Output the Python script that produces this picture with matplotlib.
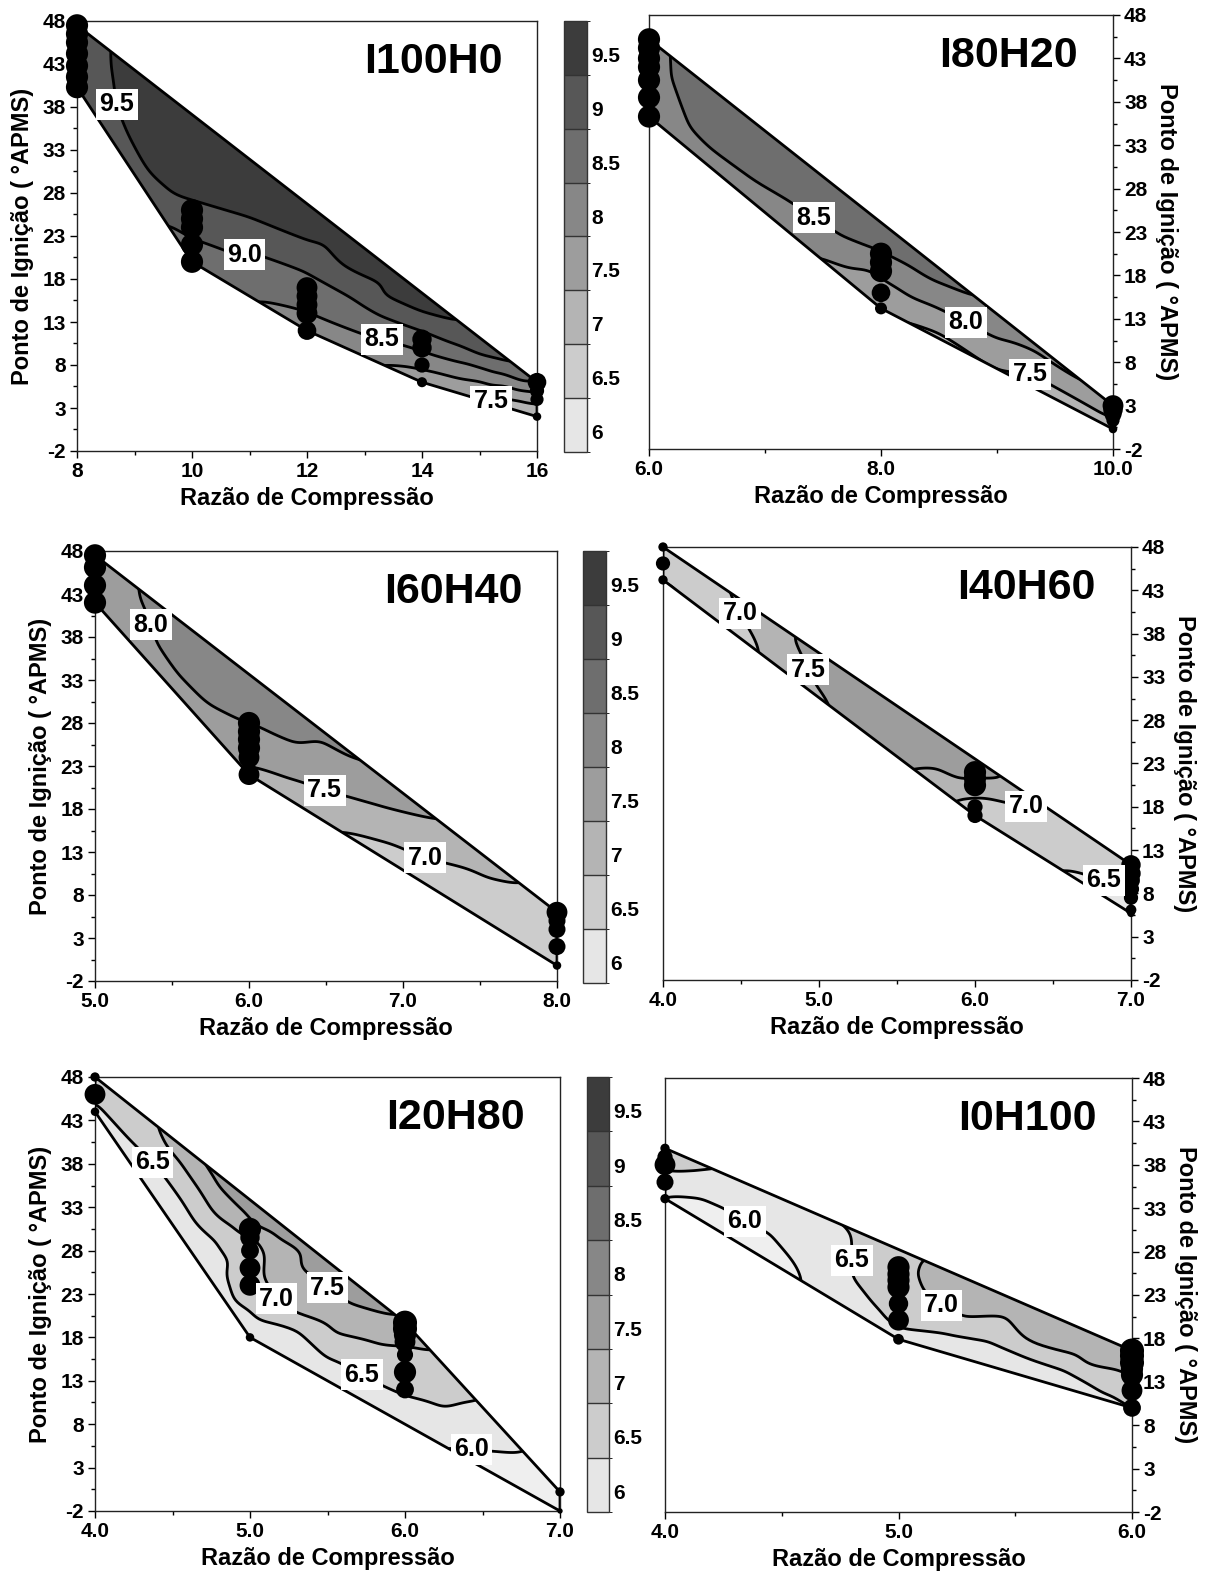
import numpy as np
import matplotlib
matplotlib.use('Agg')
import matplotlib.pyplot as plt
import matplotlib.tri as mtri
from matplotlib.patches import Polygon
from matplotlib.colors import ListedColormap, BoundaryNorm
from matplotlib.cm import ScalarMappable
from matplotlib.ticker import FixedLocator, FixedFormatter

plt.rcParams['font.family'] = ['Liberation Sans', 'DejaVu Sans']
plt.rcParams['font.weight'] = 'bold'
plt.rcParams['axes.unicode_minus'] = False

W, H = 1205, 1573

# ---------------- common scale ----------------
LEVELS = [6.0, 6.5, 7.0, 7.5, 8.0, 8.5, 9.0, 9.5, 10.0]
GRAYS = ['#e6e6e6', '#cccccc', '#b4b4b4', '#9d9d9d', '#878787', '#6e6e6e', '#575757', '#3c3c3c']
UNDER = '#efefef'
CB_LABELS = ['6', '6.5', '7', '7.5', '8', '8.5', '9', '9.5']
Y_TICKS = [-2, 3, 8, 13, 18, 23, 28, 33, 38, 43, 48]
X_LABEL = 'Razão de Compressão'
Y_LABEL = 'Ponto de Ignição ( °APMS)'

# ---------------- I100H0 ----------------
i100_xticks = [8, 10, 12, 14, 16]
i100_xticklabels = ['8', '10', '12', '14', '16']
i100_dot_x = [8, 8, 8, 8, 8, 8, 8, 10, 10, 10, 10, 10, 12, 12, 12, 12, 12, 14, 14, 14, 14, 16, 16, 16, 16]
i100_dot_y = [47.5, 46.5, 45.5, 44.2, 42.8, 41.5, 40.3, 26, 25, 24, 22, 20, 17, 16, 15, 14, 12, 11, 10, 8, 6, 6, 5, 4, 2]
i100_dot_s = [170, 170, 170, 170, 170, 170, 170, 170, 170, 170, 170, 170, 150, 150, 150, 150, 120, 130, 130, 80, 35, 120, 70, 60, 25]
i100_iso = {
    9.5: [(8.55, 46), (8.58, 42), (8.65, 38.5), (8.86, 34.8), (9.2, 30.1), (9.6, 27.8), (10.2, 26.6),
          (11.0, 25.0), (12.0, 22.3), (12.65, 19.2), (13.3, 16.0), (14.0, 13.9), (14.9, 12.3)],
    9.0: [(9.42, 25.6), (10, 22.8), (10.9, 20.5), (12, 18.8), (12.65, 16.4), (13.3, 13.7), (14, 12),
          (14.6, 10.3), (15.3, 8.6), (15.9, 7.0)],
    8.5: [(10.85, 16.3), (12, 14.1), (13.3, 11), (14, 9.6), (15, 7.8), (16.05, 6.3)],
    8.0: [(12.95, 8.9), (14, 7.6), (15, 6.2), (16.05, 4.9)],
    7.5: [(14.65, 4.5), (15.2, 4.0), (16.05, 3.3)],
    7.0: [(15.8, 2.2), (16.05, 2.6)],
}
i100_extra = [(8, 47.5, 9.3), (8, 44, 9.3), (8, 40.3, 9.2), (9.5, 36, 9.75), (10.5, 31, 9.75),
              (11.5, 28, 9.75), (12.5, 23.5, 9.7), (13.5, 18, 9.65), (10, 38.5, 9.8), (12, 28, 9.8),
              (14, 17.5, 9.8), (10, 24.5, 9.25), (11, 22.8, 9.25), (12, 20.5, 9.25), (13, 16.5, 9.25),
              (14, 13, 9.25), (15, 10, 9.2), (10, 20, 8.75), (11, 19.5, 8.75), (12, 16.5, 8.75),
              (13, 13, 8.75), (14, 10.8, 8.75), (15, 8.2, 8.75), (16, 6, 8.45), (12, 12.5, 8.25),
              (13, 10, 8.25), (14, 8.5, 8.25), (15, 7, 8.25), (16, 5.5, 8.25), (14, 6.3, 7.75),
              (15, 5, 7.75), (16, 4, 7.75), (16, 2.9, 7.25), (15.5, 3.5, 7.25), (16, 2, 6.9)]
i100_labels = [(8.67, 38.3), (10.92, 20.5), (13.3, 11), (15.2, 4.0)]

# ---------------- I80H20 ----------------
i80_xticks = [6, 8, 10]
i80_xticklabels = ['6.0', '8.0', '10.0']
i80_dot_x = [6, 6, 6, 6, 6, 6, 6, 8, 8, 8, 8, 8, 10, 10, 10, 10, 10]
i80_dot_y = [45.2, 44.2, 43, 42, 40.5, 38.5, 36.3, 20.5, 19.5, 18.5, 16, 14.2, 3, 2.5, 2, 1.3, 0.3]
i80_dot_s = [170, 170, 170, 170, 170, 170, 170, 170, 170, 170, 120, 50, 150, 130, 100, 60, 25]
i80_iso = {
    8.5: [(6.17, 46), (6.19, 40.9), (6.36, 34.7), (6.54, 32), (6.84, 29), (7.24, 25.9), (7.64, 22.4),
          (7.97, 20.6), (8.3, 18.5), (8.95, 14.5)],
    8.0: [(7.27, 21.4), (7.9, 18.8), (8.1, 16.9), (8.73, 12.6), (9.3, 9.5), (9.95, 3.6)],
    7.5: [(7.95, 14.3), (8.5, 11.6), (9.29, 6.9), (10.05, 2.3)],
}
i80_extra = [(6, 45.2, 8.4), (6, 40, 8.4), (6, 36.3, 8.3), (6.1, 38, 8.4), (6.6, 38, 8.7), (7, 34, 8.7),
             (7.5, 29, 8.7), (8, 24, 8.7), (8.5, 18.5, 8.7), (7, 36, 8.8), (8, 25.5, 8.8), (7, 26.3, 8.25),
             (7.6, 21, 8.25), (8.4, 16, 8.25), (9, 12.5, 8.25), (9.5, 9, 8.25), (9.5, 9.5, 8.3),
             (8.5, 13, 7.75), (9.3, 8.2, 7.75), (10, 3, 7.8), (10, 0.3, 7.2), (9, 5, 7.2), (8, 14.2, 7.5)]
i80_labels = [(7.4, 24.2), (8.73, 12.6), (9.29, 6.85)]

# ---------------- I60H40 ----------------
i60_xticks = [5, 6, 7, 8]
i60_xticklabels = ['5.0', '6.0', '7.0', '8.0']
i60_dot_x = [5, 5, 5, 5, 6, 6, 6, 6, 6, 6, 8, 8, 8, 8, 8]
i60_dot_y = [47.5, 46.1, 44, 42, 28, 27, 26.1, 25.1, 24, 22, 6, 5, 4, 2, -0.2]
i60_dot_s = [170, 170, 170, 170, 170, 170, 170, 170, 150, 150, 150, 100, 100, 100, 25]
i60_iso = {
    8.0: [(5.27, 46), (5.3, 42), (5.39, 37), (5.52, 33.3), (5.7, 30.2), (5.9, 28.4), (6.1, 27.1),
          (6.3, 25.5), (6.66, 24), (6.86, 22.5)],
    7.5: [(5.88, 23.8), (6, 23.2), (6.28, 21.4), (6.49, 20.1), (6.66, 19.3), (6.9, 18.1), (7.26, 16.6)],
    7.0: [(6.48, 16.4), (6.9, 14.2), (7.14, 12.3), (7.42, 11.1), (7.82, 8.9)],
}
i60_extra = [(5, 47.5, 7.85), (5, 44.5, 7.85), (5, 42, 7.8), (5.3, 37, 7.8), (5.6, 40, 8.2), (6, 33, 8.2),
             (6.5, 28, 8.2), (5.8, 38, 8.3), (6.5, 29, 8.3), (6, 25, 7.75), (6.4, 23.5, 7.75),
             (6.8, 21, 7.75), (6.2, 20, 7.25), (6.8, 16.5, 7.25), (7.2, 14.5, 7.25), (7.6, 12, 7.25),
             (7, 10.5, 6.75), (7.5, 8, 6.75), (8, 6, 6.85), (8, 2, 6.65), (8, -0.2, 6.55)]
i60_labels = [(5.34, 39.3), (6.49, 20.1), (7.14, 12.1)]

# ---------------- I40H60 ----------------
i40_xticks = [4, 5, 6, 7]
i40_xticklabels = ['4.0', '5.0', '6.0', '7.0']
i40_dot_x = [4, 4, 4, 6, 6, 6, 6, 6, 7, 7, 7, 7, 7, 7, 7]
i40_dot_y = [48, 46.1, 44.2, 22, 21.3, 20.5, 18, 17, 11.3, 10.3, 9.5, 8.5, 7.5, 6.1, 5.7]
i40_dot_s = [30, 70, 30, 170, 170, 170, 80, 80, 130, 130, 110, 90, 70, 40, 20]
i40_iso = {
    6.5: [(3.95, 45.7), (4.1, 43.5), (4.24, 40.6), (6.47, 11.5), (6.7, 10.3), (6.82, 9.2), (7.05, 7.6)],
    7.0: [(4.37, 43.9), (4.48, 40.9), (4.56, 38.4), (4.66, 35.0), (5.82, 19.2), (6.02, 19.3),
          (6.2, 18.4), (6.52, 17.4)],
    7.5: [(4.76, 39.0), (4.88, 35.7), (4.98, 31.8), (5.15, 28.3), (5.58, 22.5), (5.92, 20.9),
          (6.25, 20.7)],
}
i40_extra = [(4, 48, 6.8), (4, 46.1, 6.7), (4, 44.2, 6.4), (4.4, 41, 6.8), (4.6, 40, 7.25), (4.75, 36, 7.25),
             (5.3, 30, 7.75), (5.5, 28, 7.75), (5.5, 26, 7.75), (5.8, 24, 7.75), (5.1, 33, 7.75),
             (6, 21.5, 7.55), (6, 20, 7.25), (5.7, 21, 7.25), (6.2, 17.5, 6.75), (6.5, 14.5, 6.75),
             (6.8, 12, 6.75), (6.9, 8, 6.25), (7, 5.7, 6.2), (7, 11.3, 6.7)]
i40_labels = [(4.47, 40.1), (4.93, 33.8), (6.32, 17.0), (6.82, 8.6)]

# ---------------- I20H80 ----------------
i20_xticks = [4, 5, 6, 7]
i20_xticklabels = ['4.0', '5.0', '6.0', '7.0']
i20_dot_x = [4, 4, 4, 5, 5, 5, 5, 5, 5, 6, 6, 6, 6, 6, 6, 6, 7, 7]
i20_dot_y = [48, 46, 44, 30.5, 29.5, 28, 26, 24, 18, 19.7, 19, 18.3, 17.5, 16, 14, 12, 0.2, -2]
i20_dot_s = [30, 150, 25, 170, 130, 110, 150, 150, 25, 200, 200, 170, 150, 90, 170, 110, 30, 10]
i20_iso = {
    6.0: [(6.17, 6.0), (6.43, 5.4), (6.78, 4.9)],
    6.5: [(3.95, 45), (4.14, 42.3), (4.39, 38.1), (4.56, 33.8), (4.64, 31.5), (4.79, 29.2), (4.87, 26.9),
          (4.84, 25), (4.89, 22.3), (5.02, 20.8), (5.29, 19.2), (5.54, 15.4), (5.77, 13.1), (6, 11.3),
          (6.42, 10.8), (6.5, 10.7)],
    7.0: [(4.36, 43.5), (4.54, 38.5), (4.69, 34.6), (4.79, 31.9), (4.92, 30.4), (5.05, 29.5), (5.1, 28),
          (5.08, 25), (5.16, 22.3), (5.29, 20.6), (5.6, 18.3), (5.8, 17.5), (6, 17.3), (6.2, 16.6)],
    7.5: [(4.66, 39), (4.79, 35.4), (4.94, 32.7), (5.04, 30.4), (5.32, 26), (5.49, 23.8), (5.64, 21.7),
          (5.9, 20.3), (6.05, 20.0)],
}
i20_extra = [(4, 48, 6.7), (4, 46, 6.6), (4, 44, 6.3), (4.38, 40, 6.75), (4.5, 33, 6.25), (4.7, 27, 6.25),
             (5, 19, 6.25), (5.5, 14, 6.25), (6, 9.5, 6.25), (6.5, 8, 6.25), (4.85, 29, 6.75),
             (5, 26, 6.75), (5.1, 21, 6.75), (5.5, 17, 6.75), (6, 13, 6.75), (6.3, 11.8, 6.75),
             (4.8, 33.5, 7.25), (5.2, 28, 7.25), (5.3, 23.5, 7.25), (5.6, 20, 7.25), (5.95, 18.5, 7.25),
             (5.2, 30.5, 7.75), (4.8, 38, 7.8), (5.5, 28, 7.8), (6.9, -1, 5.8), (7, -2, 5.8),
             (7, 0.2, 5.9), (6.8, 1, 5.9)]
i20_labels = [(4.38, 38.3), (5.16, 22.3), (5.49, 23.5), (5.71, 13.3), (6.43, 5.4)]

# ---------------- I0H100 ----------------
i0_xticks = [4, 5, 6]
i0_xticklabels = ['4.0', '5.0', '6.0']
i0_dot_x = [4, 4, 4, 4, 4, 5, 5, 5, 5, 5, 5, 5, 6, 6, 6, 6, 6, 6, 6]
i0_dot_y = [39.9, 38.9, 38, 36, 34.1, 26.2, 25.4, 24.7, 23.9, 22, 20.1, 17.9, 16.6, 16, 15.2, 14.5, 13.8, 12, 10]
i0_dot_s = [30, 80, 150, 100, 30, 170, 170, 170, 170, 130, 150, 40, 200, 200, 200, 170, 170, 150, 110]
i0_iso = {
    6.0: [(3.95, 34.9), (4.15, 34.3), (4.25, 33), (4.34, 31.4), (4.45, 30.1), (4.55, 27), (4.62, 23.8)],
    6.5: [(3.95, 37.2), (4.1, 36.8), (4.2, 37.0), (4.3, 37.5),
          (4.77, 31.3), (4.8, 29.7), (4.8, 25.1), (4.88, 22.4), (4.94, 20.8), (4.95, 19.7), (5, 19.1),
          (5.22, 18.5), (5.38, 17.7), (5.71, 14.3), (5.88, 11.6), (6.05, 10.3)],
    7.0: [(5.1, 27.5), (5.05, 25.4), (5.1, 23.5), (5.18, 21.6), (5.28, 20.1), (5.55, 17.4), (5.8, 15),
          (6.05, 12.8)],
}
i0_extra = [(4, 40, 6.6), (4, 39, 6.65), (4, 38, 6.6), (4, 36, 6.3), (4, 34.1, 5.9), (4.5, 33, 6.25),
            (4.6, 29, 6.25), (4.7, 26, 6.25), (4.8, 21, 6.25), (5, 18, 6.25), (5.5, 15.5, 6.25),
            (5.9, 11, 6.25), (4.2, 32, 5.8), (4.4, 28, 5.8), (4.9, 26, 6.75), (5, 22, 6.75),
            (5.3, 19.3, 6.75), (5.6, 16, 6.75), (5.9, 12.5, 6.75), (5, 30, 6.75), (5.5, 22, 7.25),
            (5.8, 17, 7.25), (5.3, 24, 7.25), (5.6, 24, 7.3), (6, 16.6, 7.3), (6, 10, 6.4)]
i0_labels = [(4.34, 31.4), (4.81, 27.0), (5.18, 21.6)]


def px_box(left, right, top, bottom):
    return [left / W, 1 - bottom / H, (right - left) / W, (bottom - top) / H]


def convex_hull(xs, ys):
    pts = sorted(set(zip(xs, ys)))

    def cross(o, a, b):
        return (a[0] - o[0]) * (b[1] - o[1]) - (a[1] - o[1]) * (b[0] - o[0])
    lower, upper = [], []
    for p in pts:
        while len(lower) >= 2 and cross(lower[-2], lower[-1], p) <= 0:
            lower.pop()
        lower.append(p)
    for p in reversed(pts):
        while len(upper) >= 2 and cross(upper[-2], upper[-1], p) <= 0:
            upper.pop()
        upper.append(p)
    return lower[:-1] + upper[:-1]


def gauss_smooth(z, valid, sigma):
    r = int(3 * sigma)
    k = np.exp(-0.5 * (np.arange(-r, r + 1) / sigma) ** 2)
    k /= k.sum()

    def conv(a):
        a = np.apply_along_axis(lambda v: np.convolve(v, k, mode='same'), 0, a)
        a = np.apply_along_axis(lambda v: np.convolve(v, k, mode='same'), 1, a)
        return a
    num = conv(np.where(valid, z, 0.0))
    den = conv(valid.astype(float))
    out = np.where(den > 1e-6, num / np.maximum(den, 1e-6), np.nan)
    return out


cmap = ListedColormap(GRAYS)
cmap.set_under(UNDER)
cmap.set_over(GRAYS[-1])
norm = BoundaryNorm(LEVELS, cmap.N)

DOT_SCALE = 1.5
GRID_N = 260


def draw_panel(fig, box, name, xticks, xticklabels, dx, dy, ds, iso, extra, labels, side):
    ax = fig.add_axes(box)
    cx, cy, cz = [], [], []
    for lev, pts in iso.items():
        for (x, y) in pts:
            cx.append(x); cy.append(y); cz.append(lev)
    for (x, y, z) in extra:
        cx.append(x); cy.append(y); cz.append(z)
    cx = np.array(cx, float); cy = np.array(cy, float); cz = np.array(cz, float)
    x0, x1 = xticks[0], xticks[-1]
    sx = (x1 - x0) / 50.0
    tri0 = mtri.Triangulation(cx / sx, cy)
    tri = mtri.Triangulation(cx, cy, tri0.triangles)
    interp = mtri.LinearTriInterpolator(tri, cz)
    gx = np.linspace(x0 - 0.05 * (x1 - x0), x1 + 0.05 * (x1 - x0), GRID_N)
    gy = np.linspace(-4.5, 50.5, GRID_N)
    GX, GY = np.meshgrid(gx, gy)
    zi = interp(GX, GY)
    valid = ~np.ma.getmaskarray(zi)
    zf = np.ma.filled(zi, 0.0)
    zs = gauss_smooth(zf, valid, 3.0)
    zs = np.ma.masked_invalid(zs)

    hull = convex_hull(dx, dy)
    clip = Polygon(hull, closed=True, transform=ax.transData)
    cf = ax.contourf(GX, GY, zs, levels=LEVELS, cmap=cmap, norm=norm, extend='both', zorder=1)
    cf.set_clip_path(clip)
    line_levels = sorted(iso.keys())
    cl = ax.contour(GX, GY, zs, levels=line_levels, colors='black', linewidths=2.0, zorder=2)
    cl.set_clip_path(clip)
    texts = ax.clabel(cl, levels=line_levels, manual=labels, inline=False, fmt='%.1f', fontsize=18)
    for t in texts:
        t.set_rotation(0)
        t.set_fontweight('bold')
        t.set_bbox(dict(facecolor='white', edgecolor='none', pad=2.5))
        t.set_zorder(6)
    ax.add_patch(Polygon(hull, closed=True, fill=False, edgecolor='black', linewidth=2.0, zorder=4))
    ax.scatter(dx, dy, s=[v * DOT_SCALE for v in ds], c='black', zorder=5, clip_on=False, linewidths=0)

    ax.set_xlim(x0, x1)
    ax.set_ylim(-2, 48)
    ax.set_xticks(xticks)
    ax.set_xticklabels(xticklabels)
    minors = [(a + b) / 2 for a, b in zip(xticks[:-1], xticks[1:])]
    ax.xaxis.set_minor_locator(FixedLocator(minors))
    ax.set_yticks(Y_TICKS)
    ax.yaxis.set_minor_locator(FixedLocator([v + 2.5 for v in Y_TICKS[:-1]]))
    ax.tick_params(which='major', direction='out', length=5, width=1, labelsize=15, pad=3)
    ax.tick_params(which='minor', direction='out', length=3, width=1)
    for sp in ax.spines.values():
        sp.set_linewidth(1.0)
        sp.set_color('#222222')
    ax.set_xlabel(X_LABEL, fontsize=17, fontweight='bold', labelpad=4)
    if side == 'right':
        ax.yaxis.tick_right()
        ax.yaxis.set_label_position('right')
        ax.set_ylabel(Y_LABEL, fontsize=17, fontweight='bold', rotation=270, labelpad=22)
    else:
        ax.set_ylabel(Y_LABEL, fontsize=17, fontweight='bold', labelpad=6)
    ax.text(0.925, 0.905, name, transform=ax.transAxes, ha='right', va='center',
            fontsize=31, fontweight='bold', zorder=7)
    return ax


def draw_colorbar(fig, box):
    cax = fig.add_axes(box)
    sm = ScalarMappable(norm=norm, cmap=cmap)
    cb = fig.colorbar(sm, cax=cax, boundaries=LEVELS, drawedges=True)
    ticks = [v + 0.19 for v in LEVELS[:-1]]
    cb.locator = FixedLocator(ticks)
    cb.formatter = FixedFormatter(CB_LABELS)
    cb.update_ticks()
    cax.tick_params(length=0, labelsize=15, pad=3)
    cb.outline.set_linewidth(1.0)
    cb.outline.set_edgecolor('#333333')
    cb.dividers.set_color('#333333')
    cb.dividers.set_linewidth(1.0)
    return cb


fig = plt.figure(figsize=(W / 100, H / 100), dpi=100)

draw_panel(fig, px_box(77, 537, 21, 451), 'I100H0', i100_xticks, i100_xticklabels,
           i100_dot_x, i100_dot_y, i100_dot_s, i100_iso, i100_extra, i100_labels, 'left')
draw_colorbar(fig, px_box(564, 587, 21, 452))
draw_panel(fig, px_box(649, 1113, 15, 449), 'I80H20', i80_xticks, i80_xticklabels,
           i80_dot_x, i80_dot_y, i80_dot_s, i80_iso, i80_extra, i80_labels, 'right')

draw_panel(fig, px_box(95, 557, 551, 981), 'I60H40', i60_xticks, i60_xticklabels,
           i60_dot_x, i60_dot_y, i60_dot_s, i60_iso, i60_extra, i60_labels, 'left')
draw_colorbar(fig, px_box(583, 606, 551, 983))
draw_panel(fig, px_box(663, 1131, 547, 980), 'I40H60', i40_xticks, i40_xticklabels,
           i40_dot_x, i40_dot_y, i40_dot_s, i40_iso, i40_extra, i40_labels, 'right')

draw_panel(fig, px_box(95, 560, 1077, 1511), 'I20H80', i20_xticks, i20_xticklabels,
           i20_dot_x, i20_dot_y, i20_dot_s, i20_iso, i20_extra, i20_labels, 'left')
draw_colorbar(fig, px_box(587, 609, 1077, 1512))
draw_panel(fig, px_box(665, 1132, 1078, 1512), 'I0H100', i0_xticks, i0_xticklabels,
           i0_dot_x, i0_dot_y, i0_dot_s, i0_iso, i0_extra, i0_labels, 'right')

fig.savefig('out.png', dpi=100)
